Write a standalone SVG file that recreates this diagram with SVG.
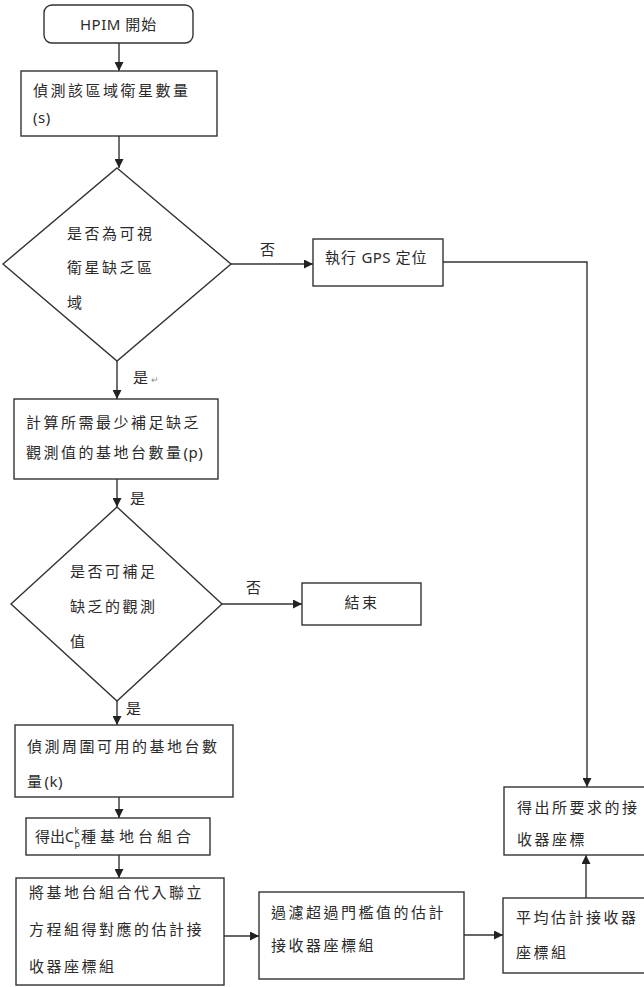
<svg xmlns="http://www.w3.org/2000/svg" width="644" height="987" viewBox="0 0 644 987">
<style>
.box{fill:#fff;stroke:#333;stroke-width:1.4}
.ln{fill:none;stroke:#333;stroke-width:1.4}
.t{font-family:"Noto Sans CJK TC","Noto Sans CJK SC",sans-serif;font-size:15px;fill:#2a2a2a;letter-spacing:2.5px}
.lt{font-family:"Noto Sans","Noto Sans CJK TC",sans-serif;font-size:15px;fill:#2a2a2a;letter-spacing:0.5px}
.sm{font-family:"Noto Sans",sans-serif;font-size:9px;fill:#2a2a2a}
</style>
<defs>
<marker id="ah" viewBox="0 0 10 10" refX="10" refY="5" markerWidth="9" markerHeight="9" markerUnits="userSpaceOnUse" orient="auto">
<path d="M0,0 L10,5 L0,10 Z" fill="#222"/>
</marker>
</defs>
<rect width="644" height="987" fill="#fff"/>
<g id="connectors">
<path class="ln" d="M119,43 V71" marker-end="url(#ah)"/>
<path class="ln" d="M119,136 V168" marker-end="url(#ah)"/>
<path class="ln" d="M231,264 H313" marker-end="url(#ah)"/>
<path class="ln" d="M443,262 H587 V787" marker-end="url(#ah)"/>
<path class="ln" d="M117,361 V399" marker-end="url(#ah)"/>
<path class="ln" d="M117,479 V507" marker-end="url(#ah)"/>
<path class="ln" d="M222,604 H302" marker-end="url(#ah)"/>
<path class="ln" d="M117,701 V725" marker-end="url(#ah)"/>
<path class="ln" d="M119,797 V818" marker-end="url(#ah)"/>
<path class="ln" d="M119,855 V878" marker-end="url(#ah)"/>
<path class="ln" d="M224,936 H259" marker-end="url(#ah)"/>
<path class="ln" d="M464,935 H503" marker-end="url(#ah)"/>
<path class="ln" d="M586,898 V855" marker-end="url(#ah)"/>
<text class="t" x="260" y="255">否</text>
<text class="t" x="133" y="383">是<tspan style="font-size:9px;fill:#888;letter-spacing:0">↵</tspan></text>
<text class="t" x="130" y="504">是</text>
<text class="t" x="246" y="593">否</text>
<text class="t" x="126" y="714">是</text>
</g>
<g id="start">
<rect class="box" x="44" y="5" width="149" height="38" rx="8"/>
<text class="lt" x="80" y="30">HPIM <tspan class="t" style="letter-spacing:1px">開始</tspan></text>
</g>
<g id="detect-sat">
<rect class="box" x="21" y="71" width="196" height="65"/>
<text class="t" x="33" y="96">偵測該區域衛星數量</text>
<text class="lt" x="33" y="123">(s)</text>
</g>
<g id="decision1">
<polygon class="box" points="117,168 231,264 117,361 3,264"/>
<text class="t" x="67" y="239">是否為可視</text>
<text class="t" x="67" y="273">衛星缺乏區</text>
<text class="t" x="67" y="308">域</text>
</g>
<g id="gps">
<rect class="box" x="313" y="239" width="130" height="47"/>
<text class="t" x="325" y="263" style="letter-spacing:1px">執行 <tspan class="lt">GPS</tspan> 定位</text>
</g>
<g id="calc-p">
<rect class="box" x="14" y="399" width="204" height="80"/>
<text class="t" x="26" y="428">計算所需最少補足缺乏</text>
<text class="t" x="26" y="458">觀測值的基地台數量<tspan class="lt">(p)</tspan></text>
</g>
<g id="decision2">
<polygon class="box" points="117,507 222,604 117,701 11,604"/>
<text class="t" x="70" y="577">是否可補足</text>
<text class="t" x="70" y="612">缺乏的觀測</text>
<text class="t" x="70" y="647">值</text>
</g>
<g id="end">
<rect class="box" x="302" y="583" width="119" height="42"/>
<text class="t" x="362" y="608" text-anchor="middle">結束</text>
</g>
<g id="detect-k">
<rect class="box" x="15" y="725" width="218" height="72"/>
<text class="t" x="27" y="752">偵測周圍可用的基地台數</text>
<text class="t" x="27" y="787">量<tspan class="lt">(k)</tspan></text>
</g>
<g id="combos">
<rect class="box" x="26" y="818" width="184" height="37"/>
<text class="t" x="35" y="842" style="letter-spacing:0px">得出</text>
<text class="lt" x="65" y="842" style="font-size:14px;letter-spacing:0">C</text>
<text class="sm" x="74.5" y="834">k</text>
<text class="sm" x="74.5" y="847">p</text>
<text class="t" x="81" y="842" style="letter-spacing:4px">種基地台組合</text>
</g>
<g id="solve">
<rect class="box" x="16" y="878" width="208" height="107"/>
<text class="t" x="29" y="898">將基地台組合代入聯立</text>
<text class="t" x="29" y="935">方程組得對應的估計接</text>
<text class="t" x="29" y="972">收器座標組</text>
</g>
<g id="filter">
<rect class="box" x="259" y="892" width="205" height="87"/>
<text class="t" x="271" y="918">過濾超過門檻值的估計</text>
<text class="t" x="271" y="951">接收器座標組</text>
</g>
<g id="average">
<rect class="box" x="503" y="898" width="150" height="75"/>
<text class="t" x="516" y="923">平均估計接收器</text>
<text class="t" x="516" y="958">座標組</text>
</g>
<g id="result">
<rect class="box" x="504" y="787" width="150" height="68"/>
<text class="t" x="517" y="813">得出所要求的接</text>
<text class="t" x="517" y="845">收器座標</text>
</g>
</svg>
